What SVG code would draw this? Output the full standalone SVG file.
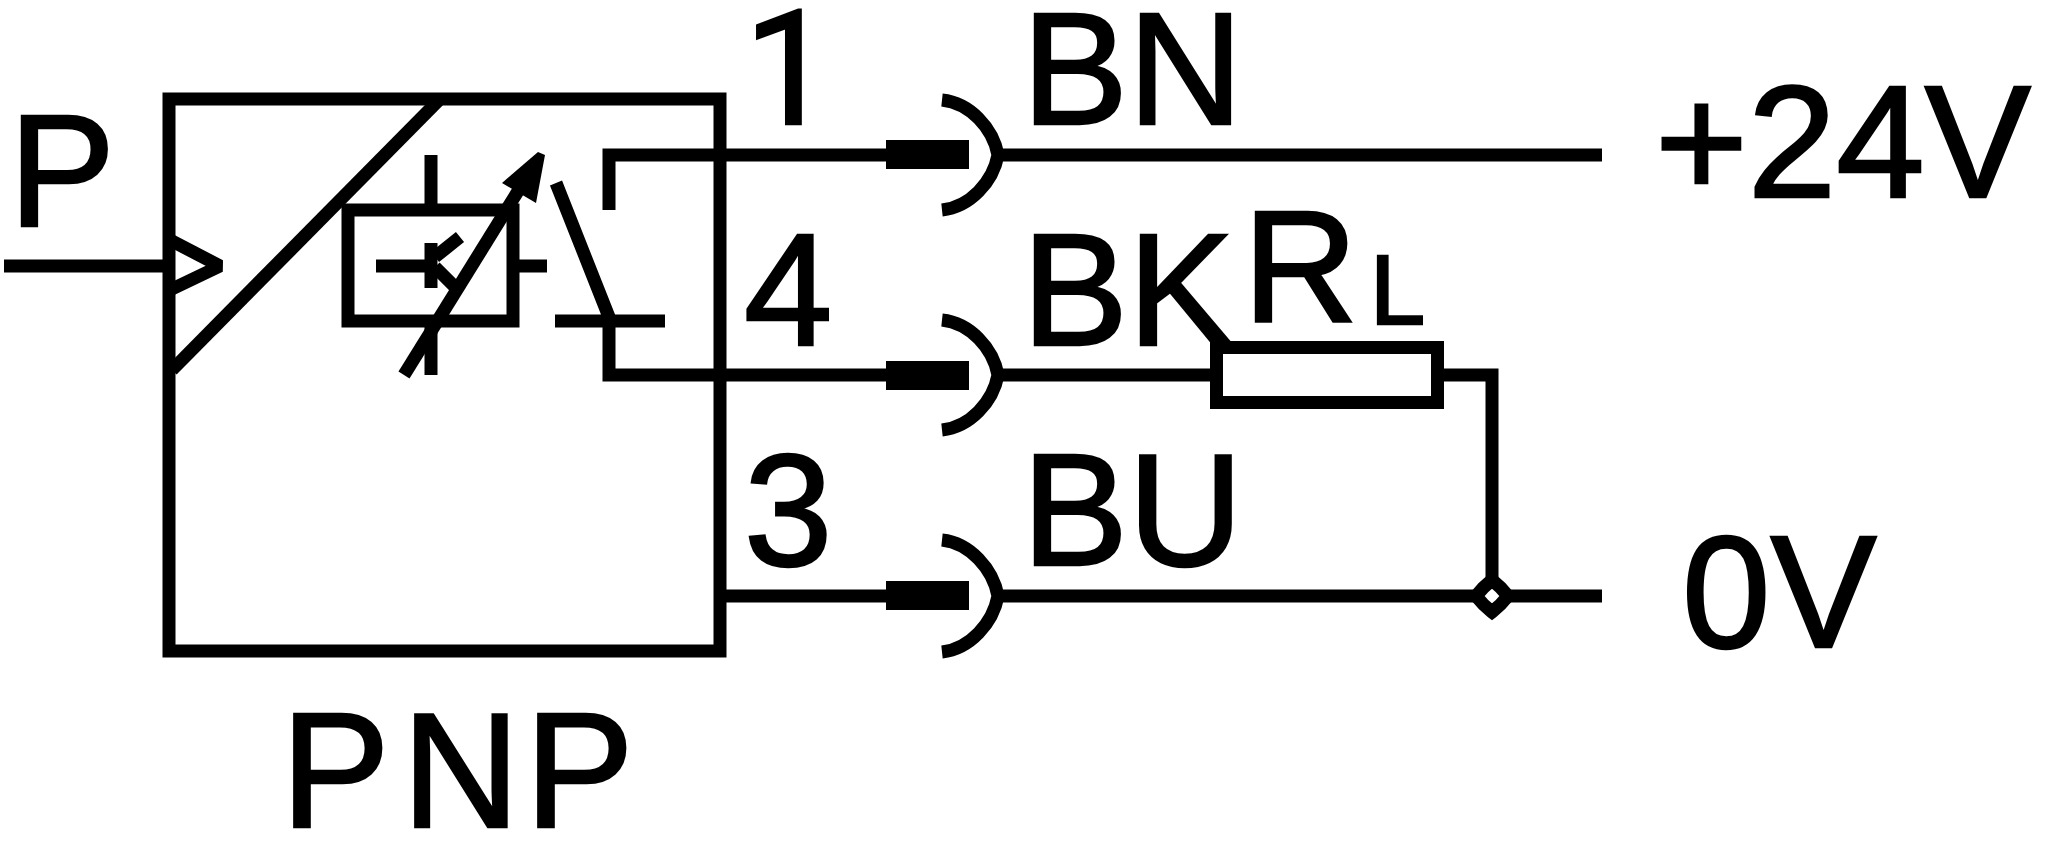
<svg xmlns="http://www.w3.org/2000/svg" width="2048" height="844" viewBox="0 0 2048 844">
<style>
.l{fill:none;stroke:#000;stroke-width:13}
.a{fill:none;stroke:#000;stroke-width:13}
.t{font-family:"Liberation Sans",Arial,sans-serif;font-size:159px;fill:#000;stroke:#000;stroke-width:2.5}
.b{fill:#000}
</style>
<rect width="2048" height="844" fill="#fff"/>
<g id="sensor">
<rect class="l" x="169" y="99" width="551" height="552"/>
<path class="l" d="M440 99L172 370"/>
<path class="l" d="M172 241L220 266L172 289" stroke-linejoin="bevel"/>
</g>
<g id="transistor">
<rect class="l" x="348" y="210" width="165" height="111"/>
<path class="l" d="M431 155V210M431 321V375M376 266H431M513 266H547"/>
<path class="l" d="M431 243V288"/>
<path class="l" d="M435 257L460 237M435 267L458 290"/>
<path class="l" d="M404 375L528 175"/>
<polygon class="b" points="502,183 538,152 545,155 536,203"/>
</g>
<g id="switch">
<path class="l" d="M556 183L609 317M555 321H665"/>
</g>
<g id="connectors">
<path class="l" d="M4 266H169"/>
<path class="l" d="M609 210V155H886M609 321V375H886"/>
<path class="l" d="M720 596H886"/>
<path class="l" d="M998 155H1602M998 375H1216M1437 375H1492V596M998 596H1602"/>
</g>
<g id="connector-1">
<rect class="b" x="886" y="140" width="83" height="29"/>
<path class="a" d="M942 100C970 103 993 128 998 155C993 182 970 207 942 210"/>
</g>
<g id="connector-4">
<rect class="b" x="886" y="361" width="83" height="29"/>
<path class="a" d="M942 320C970 323 993 348 998 375C993 402 970 427 942 430"/>
</g>
<g id="connector-3">
<rect class="b" x="886" y="581" width="83" height="29"/>
<path class="a" d="M942 540C970 543 993 569 998 596C993 623 970 649 942 652"/>
</g>
<g id="resistor">
<rect class="l" x="1216.5" y="347.5" width="221" height="55" fill="#fff"/>
</g>
<g id="junction">
<path d="M1492 580Q1501 587 1508 596Q1501 605 1492 612Q1483 605 1476 596Q1483 587 1492 580Z" fill="#fff" stroke="#000" stroke-width="13"/>
</g>
<g id="labels">
<text class="t" x="9" y="226">P</text>
<text class="t" x="744" y="124" style="font-family:Roboto,sans-serif">1</text>
<text class="t" x="744" y="345">4</text>
<text class="t" x="744" y="565">3</text>
<text class="t" x="1022" y="124">BN</text>
<text class="t" x="1022" y="345">BK</text>
<text class="t" x="1022" y="565">BU</text>
<text class="t" x="1243" y="322">R</text>
<text class="t" x="1370" y="324" style="font-size:99px">L</text>
<text class="t" x="1655" y="197">+24V</text>
<text class="t" x="1682" y="647">0V</text>
<text class="t" x="281 402 525" y="827" style="font-size:163px">PNP</text>
</g>
</svg>
